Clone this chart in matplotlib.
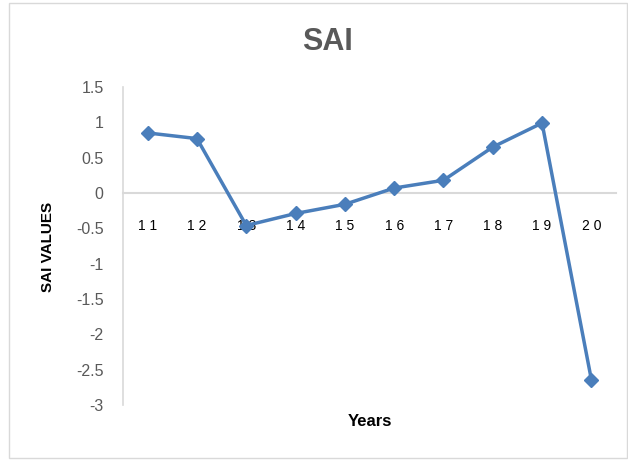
import matplotlib
matplotlib.use("Agg")
import matplotlib.pyplot as plt
from matplotlib.patches import Rectangle

years = ["11", "12", "13", "14", "15", "16", "17", "18", "19", "20"]
sai = [0.85, 0.77, -0.46, -0.29, -0.16, 0.07, 0.18, 0.65, 0.99, -2.64]
yticks = [1.5, 1, 0.5, 0, -0.5, -1, -1.5, -2, -2.5, -3]
ytick_labels = ["1.5", "1", "0.5", "0", "-0.5", "-1", "-1.5", "-2", "-2.5", "-3"]

plt.rcParams["font.family"] = ["Liberation Sans", "DejaVu Sans"]

fig = plt.figure(figsize=(6.28, 4.61), dpi=100)
fig.patch.set_facecolor("white")
fig.patches.append(Rectangle((9/628, 3/461), 618/628, 455/461, transform=fig.transFigure,
                             fill=False, edgecolor="#d9d9d9", linewidth=1))

ax = fig.add_axes([123/628, 1 - 405/461, 493/628, 318/461])
x = list(range(len(years)))
ax.plot(x, sai, color="#4a7ebb", linewidth=2.5, marker="D", markersize=7,
        markerfacecolor="#4a7ebb", markeredgecolor="#4a7ebb", zorder=3)

ax.set_xlim(-0.5, len(years) - 0.5)
ax.set_ylim(-3, 1.5)
ax.set_yticks(yticks)
ax.set_yticklabels(ytick_labels, color="#595959", fontsize=11.5)
ax.set_xticks(x)
ax.set_xticklabels([" ".join(y) for y in years], color="#595959", fontsize=11.5)

for s in ["top", "right"]:
    ax.spines[s].set_visible(False)
ax.spines["left"].set_color("#d9d9d9")
ax.spines["bottom"].set_color("#d9d9d9")
ax.spines["bottom"].set_position(("data", 0))
ax.spines["bottom"].set_linewidth(1.5)
ax.spines["left"].set_linewidth(1.2)
ax.tick_params(axis="both", length=0)
ax.tick_params(axis="x", pad=19)
ax.tick_params(axis="y", pad=14)

fig.text(327/628, 1 - 42/461, "SAI", ha="center", va="center", fontsize=22,
         fontweight="bold", color="#595959")
fig.text(48/628, 1 - 247/461, "SAI VALUES", ha="center", va="center", rotation=90,
         fontsize=11, fontweight="bold", color="black")
fig.text(370/628, 1 - 422/461, "Years", ha="center", va="center",
         fontsize=12, fontweight="bold", color="black")

fig.savefig("out.png", dpi=100)
